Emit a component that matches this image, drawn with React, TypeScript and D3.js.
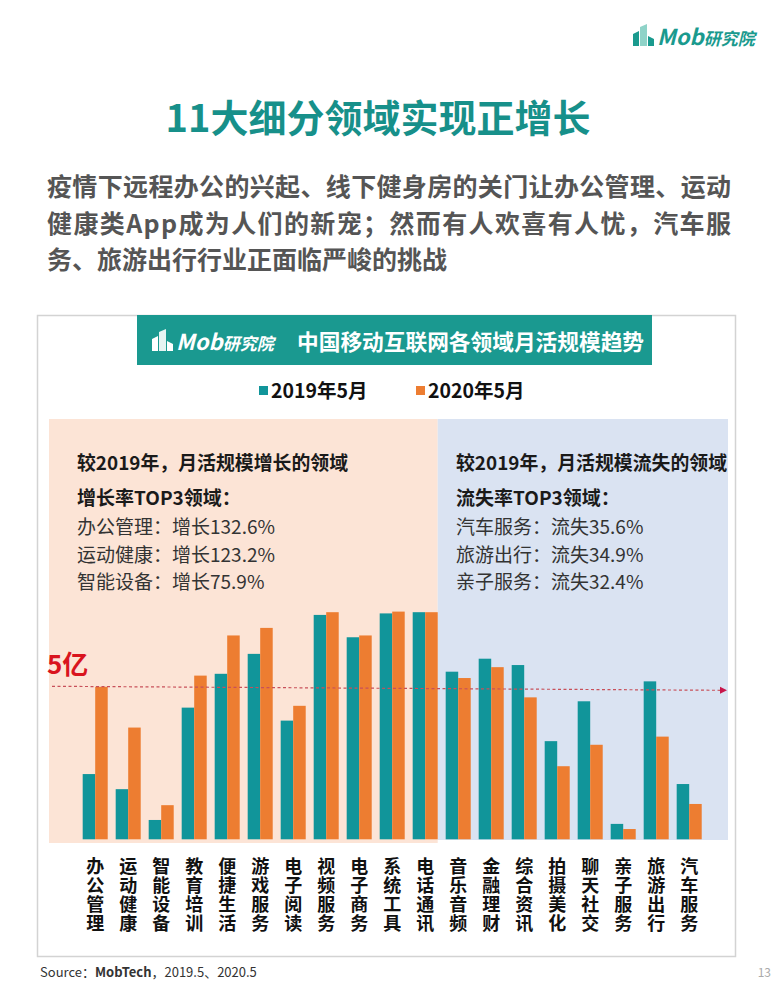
import React, { useEffect, useRef } from 'react'
import * as d3 from 'd3'

// 月活规模（亿），读自原图
const categories = [
  '办公管理', '运动健康', '智能设备', '教育培训', '便捷生活', '游戏服务', '电子阅读',
  '视频服务', '电子商务', '系统工具', '电话通讯', '音乐音频', '金融理财', '综合资讯',
  '拍摄美化', '聊天社交', '亲子服务', '旅游出行', '汽车服务'
]
const mau2019 = [2.16, 1.66, 0.64, 4.36, 5.48, 6.14, 3.93, 7.43, 6.69, 7.48, 7.52, 5.55, 5.98, 5.77, 3.25, 4.57, 0.51, 5.23, 1.83]
const mau2020 = [5.05, 3.7, 1.13, 5.42, 6.75, 7.0, 4.42, 7.52, 6.75, 7.54, 7.52, 5.34, 5.7, 4.7, 2.42, 3.13, 0.34, 3.4, 1.17]
const seriesNames = ['2019年5月', '2020年5月']
const growthCount = 11
const refValue = 5

const growthTop3 = ['办公管理：增长132.6%', '运动健康：增长123.2%', '智能设备：增长75.9%']
const lossTop3 = ['汽车服务：流失35.6%', '旅游出行：流失34.9%', '亲子服务：流失32.4%']
const subtitleLines = [
  '疫情下远程办公的兴起、线下健身房的关门让办公管理、运动',
  '健康类App成为人们的新宠；然而有人欢喜有人忧，汽车服',
  '务、旅游出行行业正面临严峻的挑战'
]

const FONT = "'Noto Sans CJK SC', 'Noto Sans', sans-serif"
const TEAL = '#11959a'
const ORANGE = '#ed7d31'

function drawLogo(g, x, y, color, light) {
  // small building icon + "Mob研究院"
  g.append('polygon').attr('points', `${x},${y + 22} ${x},${y + 10} ${x + 6},${y + 7} ${x + 6},${y + 22}`).attr('fill', color)
  g.append('polygon').attr('points', `${x + 7},${y + 22} ${x + 7},${y + 3} ${x + 14},${y} ${x + 14},${y + 22}`).attr('fill', light)
  g.append('polygon').attr('points', `${x + 15},${y + 22} ${x + 15},${y + 12} ${x + 21},${y + 15} ${x + 21},${y + 22}`).attr('fill', color)
  const t = g.append('text').attr('x', x + 24).attr('y', y + 21)
    .attr('fill', color).attr('font-family', FONT).attr('font-style', 'italic').attr('font-weight', 'bold')
  t.append('tspan').attr('font-size', 22).text('Mob')
  t.append('tspan').attr('font-size', 17).text('研究院')
}

export default function App() {
  const ref = useRef(null)

  useEffect(() => {
    const svg = d3.select(ref.current)
    svg.selectAll('*').remove()

    // page logo
    drawLogo(svg.append('g'), 633, 24, '#1a9a8e', '#8fd3c8')

    svg.append('text')
      .attr('x', 378).attr('y', 132)
      .attr('text-anchor', 'middle')
      .attr('font-family', FONT).attr('font-weight', 'bold').attr('font-size', 38)
      .attr('fill', '#17908a')
      .text('11大细分领域实现正增长')

    svg.append('g').selectAll('text')
      .data(subtitleLines)
      .enter()
      .append('text')
        .attr('x', 47)
        .attr('y', (d, i) => 196 + i * 36.5)
        .attr('font-family', FONT).attr('font-weight', 'bold').attr('font-size', 25)
        .attr('fill', '#555')
        .attr('textLength', (d, i) => (i < 2 ? 684 : null))
        .attr('lengthAdjust', 'spacing')
        .text(d => d)

    // frame
    svg.append('rect')
      .attr('x', 37.5).attr('y', 315.5).attr('width', 698).attr('height', 641)
      .attr('fill', '#fff').attr('stroke', '#d3d3d3').attr('stroke-width', 1.5)

    // header
    svg.append('rect').attr('x', 137).attr('y', 315).attr('width', 515).attr('height', 50).attr('fill', '#1a9990')
    drawLogo(svg.append('g'), 152, 329, '#fff', '#e6f4f2')
    svg.append('text')
      .attr('x', 297).attr('y', 350)
      .attr('font-family', FONT).attr('font-weight', 'bold').attr('font-size', 21.7)
      .attr('fill', '#fff')
      .text('中国移动互联网各领域月活规模趋势')

    // legend
    const colors = [TEAL, ORANGE]
    const legendX = [259, 416]
    const legend = svg.append('g')
    seriesNames.forEach((name, i) => {
      legend.append('rect').attr('x', legendX[i]).attr('y', 386).attr('width', 9).attr('height', 9).attr('fill', colors[i])
      legend.append('text')
        .attr('x', legendX[i] + 12).attr('y', 398)
        .attr('font-family', FONT).attr('font-weight', 'bold').attr('font-size', 19.5)
        .attr('fill', '#111')
        .text(name)
    })

    // scales
    const x = d3.scaleBand().domain(categories).range([78.7, 705.7]).paddingInner(0.242).paddingOuter(0.121)
    const x1 = d3.scaleBand().domain(seriesNames).range([0, x.bandwidth()])
    const y = d3.scaleLinear().domain([0, refValue]).range([839.3, 688.3])

    const splitX = x(categories[growthCount - 1]) + x.bandwidth()
    svg.append('rect').attr('x', 49).attr('y', 419).attr('width', splitX - 49).attr('height', 424).attr('fill', '#fce4d6')
    svg.append('rect').attr('x', splitX).attr('y', 419).attr('width', 728 - splitX).attr('height', 421).attr('fill', '#dae3f2')

    // panel notes
    const notes = [
      { x: 77, head: '较2019年，月活规模增长的领域', sub: '增长率TOP3领域：', lines: growthTop3 },
      { x: 456, head: '较2019年，月活规模流失的领域', sub: '流失率TOP3领域：', lines: lossTop3 }
    ]
    notes.forEach(n => {
      const g = svg.append('g').attr('font-family', FONT).attr('font-size', 19).attr('fill', '#1a1a1a')
      g.append('text').attr('x', n.x).attr('y', 470).attr('font-weight', 'bold')
        .attr('textLength', 271).attr('lengthAdjust', 'spacingAndGlyphs').text(n.head)
      g.append('text').attr('x', n.x).attr('y', 505).attr('font-weight', 'bold').text(n.sub)
      g.selectAll('text.line')
        .data(n.lines)
        .enter()
        .append('text')
          .attr('class', 'line')
          .attr('x', n.x)
          .attr('y', (d, i) => 534 + i * 27.5)
          .attr('fill', '#333')
          .text(d => d)
    })

    // bars
    const rows = categories.map((c, i) => ({ c, values: [mau2019[i], mau2020[i]] }))
    svg.append('g').selectAll('g')
      .data(rows)
      .enter()
      .append('g')
        .attr('transform', d => `translate(${x(d.c)},0)`)
      .selectAll('rect')
      .data(d => d.values.map((v, i) => ({ v, s: seriesNames[i], i })))
      .enter()
      .append('rect')
        .attr('x', d => x1(d.s))
        .attr('y', d => y(d.v))
        .attr('width', x1.bandwidth())
        .attr('height', d => y(0) - y(d.v))
        .attr('fill', d => colors[d.i])

    // 5亿 reference line
    svg.append('line')
      .attr('x1', 52).attr('x2', 722).attr('y1', y(refValue) - 2).attr('y2', y(refValue) + 2)
      .attr('stroke', '#c8505a').attr('stroke-width', 1.2).attr('stroke-dasharray', '3,2.5')
    svg.append('path')
      .attr('d', `M${720},${y(refValue) - 1.5} L${727},${y(refValue) + 2} L${720},${y(refValue) + 5.5} Z`)
      .attr('fill', '#c8164a')
    svg.append('text')
      .attr('x', 47).attr('y', 674)
      .attr('font-family', FONT).attr('font-weight', 'bold').attr('font-size', 26)
      .attr('fill', '#d9141e')
      .text('5亿')

    // vertical category labels, one upright character per text
    const labels = svg.append('g')
      .attr('font-family', FONT).attr('font-weight', 'bold').attr('font-size', 18)
      .attr('fill', '#111')
    categories.forEach(c => {
      labels.selectAll(null)
        .data(c.split(''))
        .enter()
        .append('text')
          .attr('x', x(c) + x.bandwidth() / 2)
          .attr('y', (d, i) => 857 + i * 19)
          .style('writing-mode', 'vertical-rl')
          .text(d => d)
    })

    // footer
    const src = svg.append('text').attr('x', 40).attr('y', 977)
      .attr('font-family', FONT).attr('font-size', 13).attr('fill', '#333')
    src.append('tspan').text('Source：')
    src.append('tspan').attr('font-weight', 'bold').text('MobTech')
    src.append('tspan').text('，2019.5、2020.5')
    svg.append('text').attr('x', 771).attr('y', 977).attr('text-anchor', 'end')
      .attr('font-family', FONT).attr('font-size', 12).attr('fill', '#aaa').text('13')
  }, [])

  return (
    <svg ref={ref} width={778} height={1000} style={{ position: 'absolute', left: 0, top: 0, background: '#fff' }} />
  )
}
